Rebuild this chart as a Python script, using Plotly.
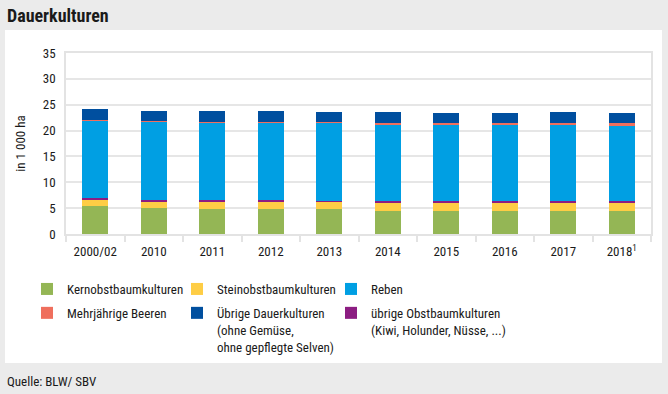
import plotly.graph_objects as go

years = ["2000/02", "2010", "2011", "2012", "2013", "2014", "2015", "2016", "2017", "2018<sup>1</sup>"]
kernobst = [5.5, 5.0, 4.8, 4.8, 4.8, 4.5, 4.5, 4.5, 4.5, 4.5]
steinobst = [1.2, 1.35, 1.5, 1.5, 1.4, 1.65, 1.65, 1.65, 1.65, 1.65]
uebrige_obst = [0.25, 0.25, 0.25, 0.25, 0.25, 0.25, 0.25, 0.25, 0.25, 0.25]
reben = [14.9, 15.1, 14.95, 14.95, 15.05, 14.75, 14.75, 14.75, 14.75, 14.55]
beeren = [0.25, 0.2, 0.2, 0.2, 0.2, 0.25, 0.25, 0.25, 0.25, 0.45]
uebrige_dauer = [2.0, 1.95, 2.15, 2.15, 1.9, 2.2, 1.95, 1.95, 2.2, 1.95]
y_ticks = [0, 5, 10, 15, 20, 25, 30, 35]

FONT = "'Roboto Condensed', 'Roboto', sans-serif"
TXT = "#1a1a1a"

# name, values, colour, legend column, rank within column
series = [
    ("Kernobstbaumkulturen", kernobst, "#94b655", "legend", 1),
    ("Steinobstbaumkulturen", steinobst, "#fecd45", "legend2", 1),
    ("übrige Obstbaumkulturen<br>(Kiwi, Holunder, Nüsse, ...)", uebrige_obst, "#8c1d82", "legend3", 2),
    ("Reben", reben, "#009fe3", "legend3", 1),
    ("Mehrjährige Beeren", beeren, "#ef6f5d", "legend", 2),
    ("Übrige Dauerkulturen<br>(ohne Gemüse,<br>ohne gepflegte Selven)", uebrige_dauer, "#004f9f", "legend2", 2),
]

fig = go.Figure()
for i, (name, vals, col, leg, rank) in enumerate(series):
    fig.add_trace(go.Bar(x=years, y=vals, name=name, marker=dict(color=col, line=dict(width=0)),
                         legend=leg, legendgroup=f"g{i}", legendrank=rank, hoverinfo="skip"))

W, H = 668, 394
L, R, T, B = 66, 17, 53, 160
pw, ph = W - L - R, H - T - B

def px_x(px):
    return (px - L) / pw

def px_y(py):
    return (H - B - py) / ph

def legend_at(px_left):
    return dict(orientation="v", x=px_x(px_left), xanchor="left", y=px_y(274), yanchor="top",
                bgcolor="rgba(0,0,0,0)", valign="top", tracegroupgap=4,
                font=dict(family=FONT, size=13, color=TXT),
                itemclick=False, itemdoubleclick=False)

fig.update_layout(
    width=W, height=H,
    margin=dict(l=L, r=R, t=T, b=B),
    barmode="stack", bargap=0.556,
    paper_bgcolor="#ebebeb", plot_bgcolor="white",
    font=dict(family=FONT, size=13, color=TXT),
    showlegend=True,
    legend=legend_at(27), legend2=legend_at(177), legend3=legend_at(331),
    xaxis=dict(tickson="boundaries", ticks="outside", ticklen=6, tickcolor="#e3e3e3", tickwidth=1.5,
               showgrid=False, showline=True, linecolor="#e3e3e3", linewidth=1.5, mirror=True,
               tickangle=0, tickfont=dict(size=13, color=TXT), ticklabelstandoff=5, fixedrange=True),
    yaxis=dict(range=[0, 35], tickvals=y_ticks, showgrid=True, gridcolor="#e6e6e6", gridwidth=1.5,
               showline=True, linecolor="#e3e3e3", linewidth=1.5, mirror=True, zeroline=False,
               ticks="", tickfont=dict(size=13, color=TXT), ticklabelstandoff=6,
               title=dict(text="in 1 000 ha", font=dict(size=13, color=TXT), standoff=14),
               fixedrange=True),
    shapes=[dict(type="rect", xref="paper", yref="paper", layer="below",
                 x0=px_x(5), x1=px_x(662), y0=px_y(363), y1=px_y(30),
                 fillcolor="white", line=dict(width=0))],
    annotations=[
        dict(text="<b>Dauerkulturen</b>", xref="paper", yref="paper", x=px_x(5), y=px_y(15),
             xanchor="left", yanchor="middle", showarrow=False, font=dict(size=18, color=TXT)),
        dict(text="Quelle: BLW/ SBV", xref="paper", yref="paper", x=px_x(5), y=px_y(381),
             xanchor="left", yanchor="middle", showarrow=False, font=dict(size=13, color=TXT)),
    ],
)

fig.write_html("out.html", config={"displayModeBar": False},
               post_script="document.body.style.margin='0';document.body.style.overflow='hidden';")
